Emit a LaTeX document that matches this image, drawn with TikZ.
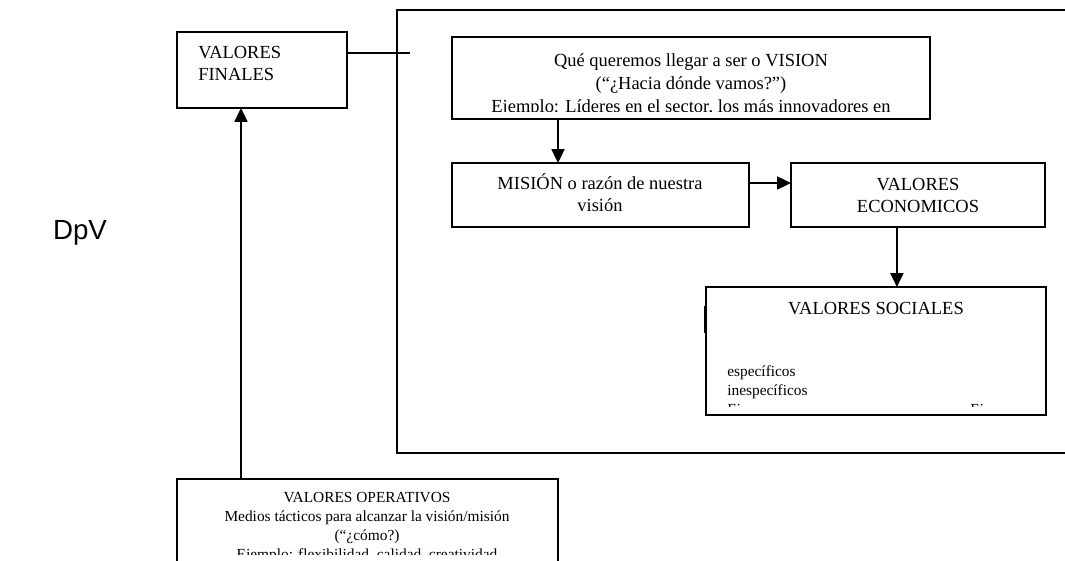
\documentclass[tikz,border=0pt]{standalone}
\usepackage{fontspec}
\setmainfont{Liberation Serif}
\newfontfamily\dpvfont{Liberation Sans}
\usepackage{tikz}
\usetikzlibrary{arrows.meta}

\tikzset{
    box/.style={draw, line width=1pt, rectangle, inner sep=0pt, outer sep=0pt, anchor=north west},
    txt/.style={inner sep=0pt, anchor=base, font=\fontsize{12}{14.5}\selectfont},
    small/.style={inner sep=0pt, anchor=base, font=\fontsize{10}{12.5}\selectfont},
    arr/.style={line width=1pt, -{Triangle[width=8.5pt,length=9pt]}},
}

\begin{document}
\begin{tikzpicture}[x=0.65pt, y=-0.65pt]

    \useasboundingbox (0,0) rectangle (1065,561);

    % frame round the vision part
    \draw[line width=1pt] (1065,10) -| (397,453) -- (1065,453);

    \node
        [ inner sep=0pt,
            font=\dpvfont\fontsize{18}{20}\selectfont,
        ] (dpv) at (80,233) {DpV};

    \node
        [ box,
            minimum width=110.5pt,
            minimum height=49.4pt,
        ] (vf) at (177,32) {};

    \node
        [ box,
            minimum width=310.7pt,
            minimum height=53.3pt,
        ] (vision) at (452,37) {};

    \node
        [ box,
            minimum width=193.05pt,
            minimum height=41.6pt,
        ] (mision) at (452,163) {};

    \node
        [ box,
            minimum width=165.1pt,
            minimum height=41.6pt,
        ] (econ) at (791,163) {};

    \node
        [ box,
            minimum width=221pt,
            minimum height=83.2pt,
        ] (sociales) at (706,287) {};

    \node
        [ box,
            minimum width=247.65pt,
            minimum height=62.4pt,
        ] (oper) at (177,479) {};

    % texts (base = last line)
    \node [txt, anchor=base west, align=left] (vftxt) at (198,81) {VALORES\\FINALES};

    \begin{scope}
        \clip (vision.north west) rectangle ([yshift=5pt]vision.south east);
        \node [txt, align=center, font=\fontsize{12}{15}\selectfont] (visiontxt) at (691,113)
            {Qué queremos llegar a ser o VISION\\(“¿Hacia dónde vamos?”)\\Ejemplo: Líderes en el sector, los más innovadores en};
    \end{scope}

    \node [txt, align=center] (misiontxt) at (600,212) {MISIÓN o razón de nuestra\\visión};
    \node [txt, align=center] (econtxt) at (918,213) {VALORES\\ECONOMICOS};

    \begin{scope}
        \clip (sociales.north west) rectangle ([yshift=5.5pt]sociales.south east);
        \node [txt] (soctitle) at (876,315) {VALORES SOCIALES};
        \node [small, anchor=base west, align=left] (soclist) at (727,415)
            {específicos\\inespecíficos\\Ej.};
        \node [small, anchor=base west] (socej) at (970,415) {Ej.};
    \end{scope}

    \begin{scope}
        \clip (oper.north west) rectangle (558,555);
        \node [small, align=center] (opertxt) at (367,560)
            {VALORES OPERATIVOS\\Medios tácticos para alcanzar la visión/misión\\(“¿cómo?)\\Ejemplo: flexibilidad, calidad, creatividad};
    \end{scope}

    % connectors
    \coordinate (stub) at (410,53);
    \draw[line width=1pt] (vf.east |- stub) -- (stub);
    \draw[line width=1.3pt] (705,306) -- (705,333);

    \draw[arr] ([xshift=41.6pt]oper.north west) -- ([xshift=41.6pt]oper.north west |- vf.south);
    \draw[arr] ([xshift=68.9pt]vision.south west) -- ([xshift=68.9pt]vision.south west |- mision.north);
    \draw[arr] ([yshift=-13pt]mision.north east) -- ([yshift=-13pt]mision.north east -| econ.west);
    \draw[arr] ([xshift=-13.7pt]econ.south) -- ([xshift=-13.7pt]econ.south |- sociales.north);

\end{tikzpicture}
\end{document}
